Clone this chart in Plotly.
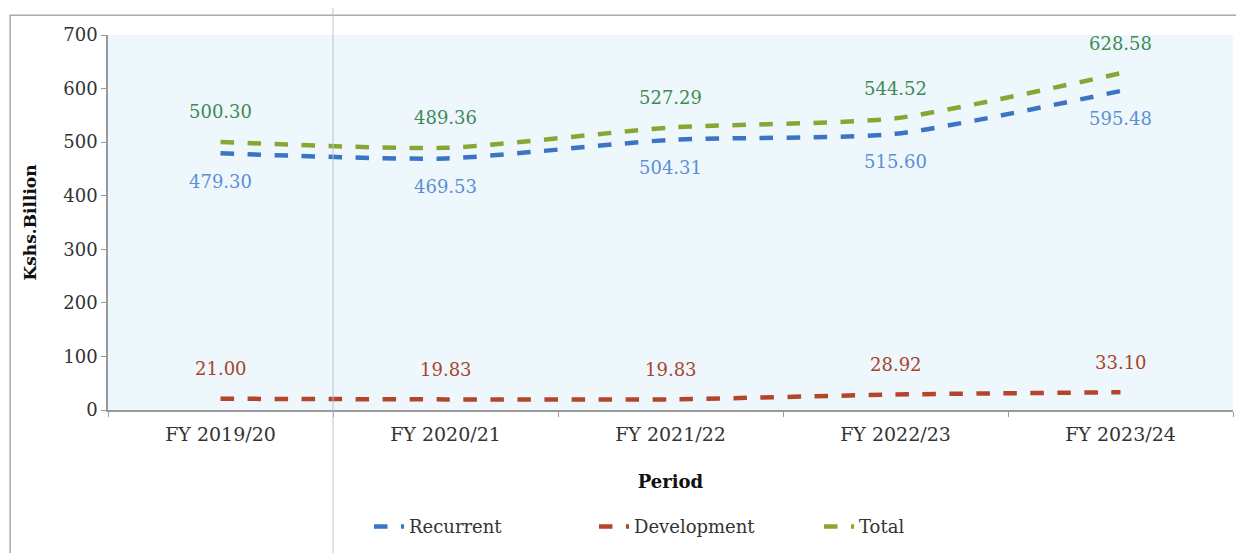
import plotly.graph_objects as go

# Expenditure by period (Kshs. Billion)
periods = ["FY 2019/20", "FY 2020/21", "FY 2021/22", "FY 2022/23", "FY 2023/24"]
recurrent = [479.30, 469.53, 504.31, 515.60, 595.48]
development = [21.00, 19.83, 19.83, 28.92, 33.10]
total = [500.30, 489.36, 527.29, 544.52, 628.58]

SERIF = "DejaVu Serif, Liberation Serif, serif"

series = [
    ("Recurrent", recurrent, "#3b74c4", "#5b8fd6", -28),
    ("Development", development, "#b4452b", "#a8432c", 30),
    ("Total", total, "#86a832", "#3f8a55", 30),
]

fig = go.Figure()
annotations = []
for name, vals, line_col, lab_col, shift in series:
    fig.add_trace(go.Scatter(
        x=periods, y=vals, name=name, mode="lines",
        line=dict(color=line_col, width=4.5, dash="dash", shape="spline", smoothing=0.6),
    ))
    for p, v in zip(periods, vals):
        annotations.append(dict(
            x=p, y=v, text=f"{v:.2f}", showarrow=False, yshift=shift,
            font=dict(family=SERIF, size=18, color=lab_col),
        ))

# page has an 8px body margin, so margins are shifted to compensate
fig.update_layout(
    width=1244, height=553,
    margin=dict(l=100, r=19, t=27, b=151),
    paper_bgcolor="white",
    plot_bgcolor="#eef8fc",
    font=dict(family=SERIF, size=17, color="#333333"),
    annotations=annotations,
    showlegend=True,
    legend=dict(orientation="h", x=0.232, xanchor="left", y=-0.262, yanchor="top",
                entrywidth=180, entrywidthmode="pixels",
                font=dict(family=SERIF, size=18, color="#333333")),
    shapes=[
        # outer frame of the figure
        dict(type="rect", xref="paper", yref="paper", x0=-0.087, x1=1.05, y0=-0.6, y1=1.053,
             line=dict(color="#aaaaaa", width=1.5), layer="below"),
        # faint fold line
        dict(type="line", xref="x", yref="paper", x0=0.5, x1=0.5, y0=-0.6, y1=1.2,
             line=dict(color="#b8c2d6", width=1)),
    ],
)

fig.update_xaxes(
    showline=True, linecolor="#999999", linewidth=1.5,
    ticks="outside", tickson="boundaries", ticklen=5, tickcolor="#999999",
    showgrid=False, range=[-0.5, 4.5], automargin=False, ticklabelstandoff=6,
    tickfont=dict(family=SERIF, size=19, color="#333333"),
    title=dict(text="<b>Period</b>", font=dict(family=SERIF, size=18, color="#111111"), standoff=32),
)
fig.update_yaxes(
    range=[0, 700], dtick=100, showline=True, linecolor="#999999", linewidth=1.5,
    ticks="outside", ticklen=5, tickcolor="#999999", showgrid=False, zeroline=False,
    automargin=False,
    tickfont=dict(family=SERIF, size=18, color="#333333"),
    title=dict(text="<b>Kshs.Billion</b>", font=dict(family=SERIF, size=17, color="#111111"), standoff=22),
)

fig.write_html("out.html")
